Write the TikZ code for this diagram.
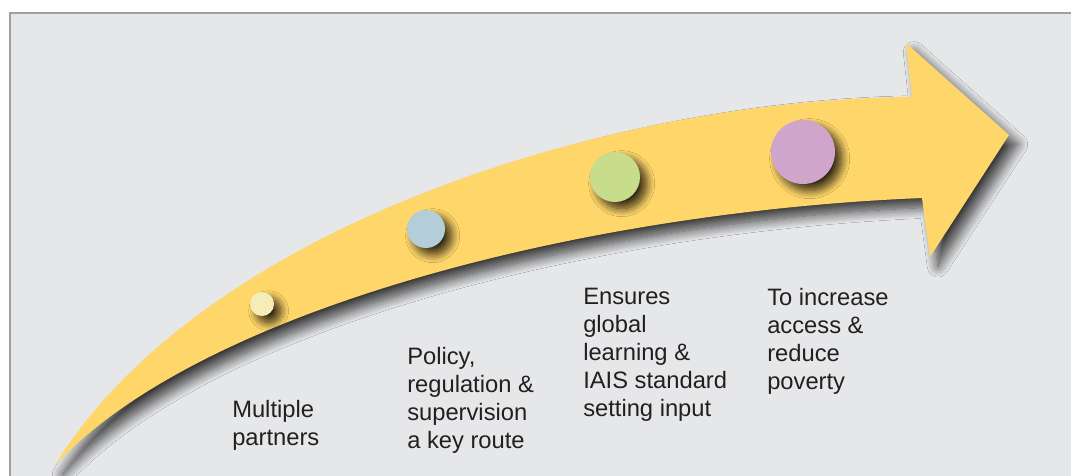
\documentclass[tikz,border=0pt]{standalone}
\usepackage{fontspec}
\setmainfont{Liberation Sans}
\usetikzlibrary{shadows.blur}

\definecolor{panelgrey}{HTML}{E6E7E9}
\definecolor{framegrey}{HTML}{9FA0A4}
\definecolor{arrowyellow}{HTML}{FFD66A}
\definecolor{textgrey}{HTML}{231F20}
\definecolor{dotyellow}{HTML}{F5EDB8}
\definecolor{dotblue}{HTML}{B3CDD9}
\definecolor{dotgreen}{HTML}{C8DD8C}
\definecolor{dotpink}{HTML}{D0A5CC}

\begin{document}
\begin{tikzpicture}[x=0.75pt,y=-0.75pt,
    stage/.style={circle, inner sep=0pt,
        blur shadow={shadow xshift=5pt, shadow yshift=-5pt,
            shadow blur radius=6pt, shadow blur steps=12, shadow opacity=80}},
    caption/.style={anchor=north west, align=left, inner sep=0pt,
        font=\fontsize{17.8}{21}\selectfont, text=textgrey}]
    \useasboundingbox (0,0) rectangle (1071,475);
    % panel
    \draw[framegrey, line width=1.5pt, fill=panelgrey] (10,12.5) rectangle (1100,500);
    % big curved arrow
    \path[fill=arrowyellow,
        blur shadow={shadow xshift=6pt, shadow yshift=-7pt,
            shadow blur radius=8pt, shadow blur steps=14, shadow opacity=75}]
        (55,465) .. controls (200,230) and (600,100) .. (912,97)
        -- (906,43) -- (1009,135) -- (930,257) -- (922,198)
        .. controls (580,212) and (200,310) .. (55,465) -- cycle;
    % stages along the arrow
    \node[stage, fill=dotyellow, minimum size=18pt]   (partners) at (262,304) {};
    \node[stage, fill=dotblue, minimum size=28.5pt]   (policy)   at (426,229) {};
    \node[stage, fill=dotgreen, minimum size=37.5pt]  (learning) at (615,177) {};
    \node[stage, fill=dotpink, minimum size=48pt]     (poverty)  at (803,152) {};
    % captions
    \node[caption] (partnerstext) at (232,400) {Multiple\\partners};
    \node[caption] (policytext)   at (407,347) {Policy,\\regulation \&\\supervision\\a key route};
    \node[caption] (learningtext) at (583,288) {Ensures\\global\\learning \&\\IAIS standard\\setting input};
    \node[caption] (povertytext)  at (767,288) {To increase\\access \&\\reduce\\poverty};
\end{tikzpicture}
\end{document}
